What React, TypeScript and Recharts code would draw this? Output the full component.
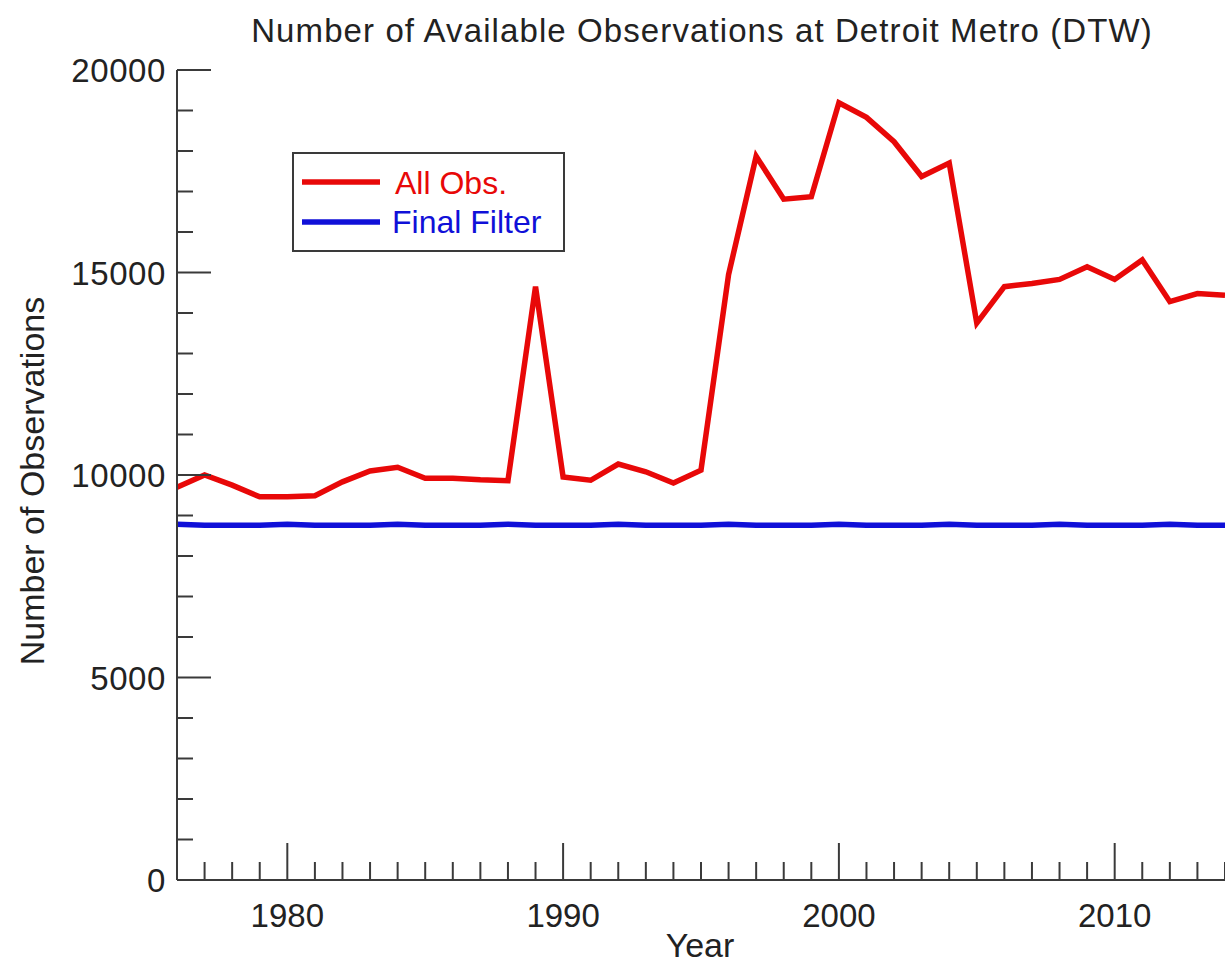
import { LineChart, Line, XAxis, YAxis, Legend } from 'recharts';

// yearly counts
const years = [
  1976, 1977, 1978, 1979, 1980, 1981, 1982, 1983, 1984, 1985,
  1986, 1987, 1988, 1989, 1990, 1991, 1992, 1993, 1994, 1995,
  1996, 1997, 1998, 1999, 2000, 2001, 2002, 2003, 2004, 2005,
  2006, 2007, 2008, 2009, 2010, 2011, 2012, 2013, 2014,
];
const allObs = [
  9700, 10000, 9750, 9460, 9460, 9490, 9830, 10100, 10190, 9920,
  9920, 9880, 9860, 14650, 9950, 9870, 10270, 10080, 9800, 10120,
  14950, 17870, 16810, 16870, 19190, 18830, 18230, 17370, 17700, 13750,
  14650, 14730, 14830, 15140, 14830, 15310, 14280, 14480, 14440,
];
const finalFilter = [
  8784, 8760, 8760, 8760, 8784, 8760, 8760, 8760, 8784, 8760,
  8760, 8760, 8784, 8760, 8760, 8760, 8784, 8760, 8760, 8760,
  8784, 8760, 8760, 8760, 8784, 8760, 8760, 8760, 8784, 8760,
  8760, 8760, 8784, 8760, 8760, 8760, 8784, 8760, 8760,
];

const xLabels = [1980, 1990, 2000, 2010];
const yLabels = [0, 5000, 10000, 15000, 20000];
const yMinorTicks = [
  0, 1000, 2000, 3000, 4000, 5000, 6000, 7000, 8000, 9000, 10000,
  11000, 12000, 13000, 14000, 15000, 16000, 17000, 18000, 19000, 20000,
];

const data = years.map((year, i) => ({
  year,
  all: allObs[i],
  final: finalFilter[i],
}));

const FONT = '"Liberation Sans", Arial, Helvetica, sans-serif';
const AXIS = '#3a3a3a';
const RED = '#e80808';
const BLUE = '#1010d8';

const XTick = (props: any) => {
  const { x, y, payload } = props;
  const major = xLabels.includes(payload.value);
  return (
    <g>
      <line x1={x} x2={x} y1={y} y2={y - (major ? 37 : 18)} stroke={AXIS} strokeWidth={2} />
      {major && (
        <text x={x} y={y + 47} textAnchor="middle" fontSize={33} fontFamily={FONT} fill="#222">
          {payload.value}
        </text>
      )}
    </g>
  );
};

const YTick = (props: any) => {
  const { x, y, payload } = props;
  const major = yLabels.includes(payload.value);
  return (
    <g>
      <line x1={x} x2={x + (major ? 34 : 16)} y1={y} y2={y} stroke={AXIS} strokeWidth={2} />
      {major && (
        <text x={x - 11} y={y + 12} textAnchor="end" fontSize={33} letterSpacing={0.6} fontFamily={FONT} fill="#222">
          {payload.value}
        </text>
      )}
    </g>
  );
};

const renderLegend = (props: any) => {
  const items = props.payload || [];
  return (
    <div
      style={{
        width: 273,
        height: 100,
        boxSizing: 'border-box',
        border: `2px solid ${AXIS}`,
        background: '#fff',
      }}
    >
      <svg width={269} height={96} style={{ display: 'block' }}>
        {items.map((item: any, i: number) => (
          <g key={item.value}>
            <line x1={8} x2={86} y1={28 + i * 40} y2={28 + i * 40} stroke={item.color} strokeWidth={5.5} />
            <text x={101 - (i === 1 ? 3 : 0)} y={40 + i * 39} fontSize={32} fontFamily={FONT} fill={item.color}>
              {item.value}
            </text>
          </g>
        ))}
      </svg>
    </div>
  );
};

export default function App() {
  return (
    <div style={{ position: 'absolute', left: 0, top: 0, width: 1225, height: 966, background: '#fff' }}>
      <LineChart
        width={1225}
        height={966}
        data={data}
        margin={{ top: 70, right: 0, bottom: 0, left: 0 }}
      >
        <XAxis
          dataKey="year"
          type="number"
          domain={[1976, 2014]}
          ticks={years}
          interval={0}
          height={86}
          tickSize={0}
          tickMargin={0}
          tickLine={false}
          axisLine={{ stroke: AXIS, strokeWidth: 2 }}
          tick={<XTick />}
        />
        <YAxis
          type="number"
          domain={[0, 20000]}
          ticks={yMinorTicks}
          interval={0}
          width={177}
          tickSize={0}
          tickMargin={0}
          tickLine={false}
          axisLine={{ stroke: AXIS, strokeWidth: 2 }}
          tick={<YTick />}
        />
        <Legend
          layout="vertical"
          align="center"
          verticalAlign="middle"
          wrapperStyle={{ left: 292, top: 152, width: 273, height: 100 }}
          content={renderLegend}
        />
        <Line
          dataKey="all"
          name="All Obs."
          stroke={RED}
          strokeWidth={5.5}
          dot={false}
          isAnimationActive={false}
          strokeLinejoin="miter"
        />
        <Line
          dataKey="final"
          name="Final Filter"
          stroke={BLUE}
          strokeWidth={5.5}
          dot={false}
          isAnimationActive={false}
        />
      </LineChart>
      <svg
        width={1225}
        height={966}
        style={{ position: 'absolute', left: 0, top: 0, pointerEvents: 'none' }}
      >
        <text x={702} y={42} textAnchor="middle" fontSize={33} letterSpacing={1.1} fontFamily={FONT} fill="#222">
          Number of Available Observations at Detroit Metro (DTW)
        </text>
        <text x={700} y={957} textAnchor="middle" fontSize={34} fontFamily={FONT} fill="#222">
          Year
        </text>
        <text
          transform="translate(44, 481) rotate(-90)"
          textAnchor="middle"
          fontSize={34}
          fontFamily={FONT}
          fill="#222"
        >
          Number of Observations
        </text>
      </svg>
    </div>
  );
}
